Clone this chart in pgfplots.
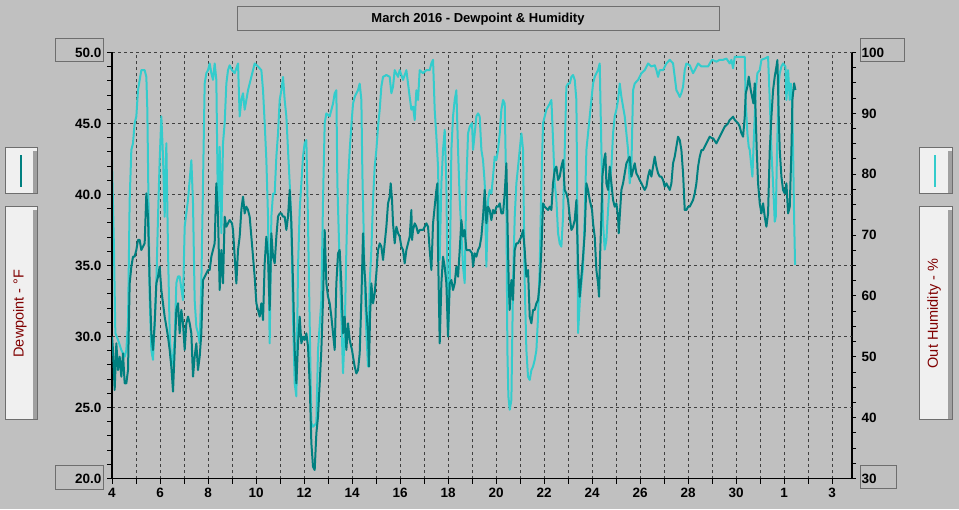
\documentclass[border=0pt]{standalone}
\usepackage{fontspec}
\setmainfont{Liberation Sans}
\usepackage{pgfplots}
\pgfplotsset{compat=1.18}
\definecolor{bg}{HTML}{C0C0C0}
\definecolor{dew}{HTML}{008080}
\definecolor{hum}{HTML}{33CCCC}
\definecolor{boxline}{HTML}{6E6E6E}
\definecolor{lab}{HTML}{800000}
\definecolor{boxfill}{HTML}{F0F0F0}
\definecolor{boxstrip}{HTML}{A0A0A0}
\begin{document}
\begin{tikzpicture}
\fill[bg] (0,0) rectangle (959pt,509pt);
% ---------------- humidity axis (right) ----------------
\begin{axis}[
  at={(112pt,30.5pt)}, anchor=south west,
  scale only axis, width=740pt, height=426pt,
  xmin=4, xmax=34.83, ymin=30, ymax=100,
  axis x line*=bottom, axis y line*=right,
  axis line style={black, line width=1.2pt, -},
  xtick={4,5,...,34}, xticklabels={}, xtick style={draw=none},
  xmajorgrids=true,
  ytick={30,40,...,100}, minor y tick num=3,
  extra y ticks={41.6667,53.3333,65,76.6667,88.3333,100},
  extra y tick labels={},
  extra y tick style={grid=major, major tick length=0pt},
  major grid style={draw=black!75, dash pattern=on 3pt off 3pt, line width=0.8pt},
  tick align=outside, major tick length=4pt, minor tick length=4pt,
  ytick style={black, line width=1pt},
  /pgf/number format/assume math mode=true,
  yticklabel style={font=\fontsize{13.5}{14}\selectfont\bfseries, anchor=west, xshift=2pt},
  clip=true,
]
\addplot[hum, line width=2pt, line join=round] coordinates {
(4.000,82.3)(4.083,67.6)(4.139,53.9)(4.250,52.8)(4.389,51.1)(4.528,50.0)(4.597,51.1)(4.667,55.5)(4.736,75.8)(4.806,84.0)(4.875,85.1)(4.944,88.4)(5.014,89.5)(5.083,93.8)(5.153,95.5)(5.222,97.1)(5.292,97.1)(5.361,97.1)(5.431,96.0)(5.472,90.6)(5.528,73.0)(5.569,59.9)(5.639,51.1)(5.708,49.5)(5.778,55.5)(5.847,62.1)(5.917,73.0)(5.986,82.3)(6.056,89.5)(6.125,82.9)(6.194,73.0)(6.264,85.1)(6.333,67.6)(6.403,53.9)(6.472,48.4)(6.542,50.0)(6.611,52.8)(6.681,62.1)(6.750,63.2)(6.819,63.2)(6.958,59.3)(7.028,71.4)(7.167,75.8)(7.306,82.3)(7.375,75.2)(7.444,59.3)(7.514,54.9)(7.583,53.9)(7.653,52.2)(7.722,62.1)(7.792,78.5)(7.861,94.9)(7.931,96.6)(8.000,97.1)(8.069,98.2)(8.139,96.6)(8.208,95.5)(8.278,98.2)(8.347,95.5)(8.417,73.0)(8.486,84.5)(8.556,70.3)(8.625,85.1)(8.694,88.4)(8.764,94.9)(8.833,97.1)(8.903,97.9)
(9.000,97.1)(9.111,96.6)(9.250,98.2)(9.319,89.5)(9.389,92.2)(9.458,93.3)(9.528,90.6)(9.667,93.8)(9.806,96.0)(9.944,98.2)(10.083,97.7)(10.222,97.1)(10.292,93.8)(10.361,88.4)(10.431,82.3)(10.500,73.0)(10.569,52.2)(10.639,73.0)(10.708,76.8)(10.778,76.8)(10.847,82.9)(10.917,86.7)(10.986,92.2)(11.056,93.8)(11.125,96.0)(11.194,92.2)(11.264,89.5)(11.333,84.0)(11.403,78.5)(11.472,71.9)(11.542,56.6)(11.611,45.6)(11.681,43.5)(11.750,64.8)(11.819,74.1)(11.889,78.5)(11.958,82.9)(12.028,85.1)(12.097,85.6)(12.167,71.9)(12.236,55.5)(12.306,39.1)(12.375,38.5)(12.514,39.1)(12.583,51.1)(12.722,59.3)(12.792,75.8)(12.861,88.4)(12.931,90.0)(13.069,89.5)(13.208,91.6)(13.278,93.3)(13.347,93.8)(13.389,78.5)(13.486,64.8)(13.556,56.6)(13.625,47.3)(13.694,53.9)(13.764,67.6)(13.833,78.5)(13.903,84.0)
(14.000,89.5)(14.042,91.6)(14.111,92.7)(14.181,93.3)(14.250,93.8)(14.319,94.9)(14.389,92.2)(14.431,80.1)(14.472,73.0)(14.528,62.1)(14.597,53.9)(14.667,48.4)(14.736,62.1)(14.806,67.6)(14.875,75.8)(14.944,81.2)(15.014,84.0)(15.083,87.8)(15.153,90.6)(15.222,94.4)(15.292,96.0)(15.431,96.3)(15.569,96.0)(15.639,93.3)(15.708,94.4)(15.778,97.1)(15.917,96.0)(15.986,97.1)(16.125,95.5)(16.264,97.1)(16.403,92.7)(16.472,90.6)(16.542,91.1)(16.611,88.9)(16.681,93.8)(16.750,92.2)(16.819,97.1)(16.958,96.6)(17.097,97.1)(17.236,97.1)(17.306,98.2)(17.375,98.8)(17.444,90.6)(17.514,86.2)(17.583,81.2)(17.653,65.9)(17.722,78.5)(17.792,84.0)(17.861,87.3)(17.931,78.5)(18.000,53.9)(18.069,62.1)(18.139,84.0)(18.208,89.5)(18.278,92.2)(18.347,93.8)(18.417,84.0)(18.486,75.8)(18.556,70.3)(18.625,64.8)(18.694,62.1)(18.764,78.5)(18.833,86.7)(18.903,87.8)
(19.000,88.4)(19.042,84.0)(19.111,86.7)(19.181,89.5)(19.250,90.0)(19.319,89.5)(19.389,84.0)(19.458,82.3)(19.528,78.5)(19.597,64.8)(19.667,75.8)(19.736,77.4)(19.806,76.8)(19.875,79.6)(19.944,82.9)(20.014,82.3)(20.083,84.0)(20.153,86.7)(20.222,90.6)(20.292,92.2)(20.361,91.6)(20.431,75.8)(20.472,51.1)(20.514,43.5)(20.569,41.3)(20.639,42.9)(20.708,62.1)(20.778,73.0)(20.847,78.5)(20.917,81.2)(20.986,84.0)(21.056,86.7)(21.125,84.0)(21.194,62.1)(21.264,51.1)(21.333,46.7)(21.403,46.2)(21.472,47.8)(21.542,48.4)(21.611,49.5)(21.681,51.1)(21.750,56.6)(21.819,64.8)(21.889,78.5)(21.958,88.4)(22.028,89.5)(22.097,90.6)(22.167,91.1)(22.236,91.6)(22.306,92.2)(22.375,85.6)(22.444,78.5)(22.514,75.8)(22.583,70.3)(22.653,68.6)(22.722,68.1)(22.792,73.0)(22.861,84.0)(22.931,94.4)(23.000,94.9)(23.069,94.9)(23.139,96.0)(23.208,96.3)(23.278,95.5)(23.347,92.2)(23.389,73.0)(23.417,53.9)(23.486,58.8)(23.556,62.1)(23.625,64.8)(23.694,73.0)(23.764,84.0)(23.833,86.7)(23.903,89.5)
(24.000,93.3)(24.042,94.9)(24.111,96.0)(24.181,96.6)(24.250,97.1)(24.319,98.2)(24.389,84.0)(24.458,71.9)(24.528,67.6)(24.597,69.2)(24.667,74.1)(24.736,78.5)(24.806,81.2)(24.875,86.7)(24.944,89.5)(25.014,90.6)(25.083,92.2)(25.153,94.9)(25.222,92.7)(25.292,91.1)(25.361,89.5)(25.431,86.7)(25.500,84.0)(25.569,78.5)(25.639,81.2)(25.708,93.8)(25.778,94.9)(25.917,95.5)(26.056,96.6)(26.194,97.1)(26.333,98.2)(26.472,97.7)(26.611,97.9)(26.681,97.1)(26.750,96.0)(26.819,97.1)(26.958,97.1)(27.097,98.2)(27.236,98.8)(27.375,98.2)(27.444,96.0)(27.514,93.8)(27.583,93.3)(27.653,92.7)(27.722,93.3)(27.792,94.4)(27.861,97.1)(27.931,98.2)(28.069,97.9)(28.208,96.6)(28.278,97.1)(28.417,98.2)(28.556,97.7)(28.694,97.7)(28.833,97.7)(28.903,98.2)
(29.000,98.8)(29.181,98.5)(29.319,98.8)(29.458,98.8)(29.597,99.0)(29.736,98.2)(29.806,98.8)(29.875,97.4)(29.944,99.3)(30.083,99.3)(30.222,99.3)(30.361,99.3)(30.403,91.6)(30.472,86.7)(30.528,84.5)(30.569,84.0)(30.639,81.2)(30.681,79.6)(30.722,84.0)(30.778,89.5)(30.819,93.8)(30.889,96.6)(30.986,97.1)(31.056,98.8)(31.194,99.0)(31.333,99.3)(31.403,92.2)(31.472,84.0)(31.542,78.5)(31.611,72.2)(31.653,73.0)(31.708,84.0)(31.778,94.9)(31.819,96.6)(31.889,97.7)(31.958,98.2)(32.056,97.7)(32.097,92.2)(32.167,97.1)(32.236,92.2)(32.278,94.9)(32.333,92.2)(32.375,84.0)(32.417,73.0)(32.458,65.1)
};
\end{axis}
% ---------------- dewpoint axis (left) ----------------
\begin{axis}[
  at={(112pt,30.5pt)}, anchor=south west,
  scale only axis, width=740pt, height=426pt,
  xmin=4, xmax=34.83, ymin=20, ymax=50,
  axis x line*=bottom, axis y line*=left,
  axis line style={black, line width=1.2pt, -},
  xtick={4,6,...,34},
  xticklabels={4,6,8,10,12,14,16,18,20,22,24,26,28,30,1,3},
  minor x tick num=1,
  ytick={20,25,...,50},
  yticklabels={20.0,25.0,30.0,35.0,40.0,45.0,50.0},
  minor y tick num=4,
  tick align=outside, major tick length=5pt, minor tick length=5pt,
  tick style={black, line width=1pt},
  /pgf/number format/assume math mode=true,
  ticklabel style={font=\fontsize{13.5}{14}\selectfont\bfseries},
  yticklabel style={anchor=east, xshift=-2pt},
  xticklabel style={anchor=north, yshift=-1pt},
  clip=true,
]
\addplot[dew, line width=2pt, line join=round] coordinates {
(4.000,29.99)(4.042,29.05)(4.111,26.23)(4.181,29.52)(4.250,27.64)(4.319,28.58)(4.389,27.17)(4.458,28.81)(4.528,26.70)(4.597,26.70)(4.667,27.64)(4.736,33.74)(4.806,34.92)(4.875,35.62)(4.944,35.62)(5.014,36.09)(5.083,36.80)(5.153,36.80)(5.222,36.09)(5.292,36.33)(5.361,36.56)(5.431,40.08)(5.500,38.44)(5.569,33.74)(5.639,30.22)(5.708,29.05)(5.778,30.93)(5.847,33.74)(5.917,34.21)(5.986,34.92)(6.056,33.27)(6.125,32.34)(6.194,31.40)(6.264,30.70)(6.333,29.99)(6.403,29.05)(6.472,27.88)(6.542,26.12)(6.611,29.05)(6.681,31.87)(6.750,32.34)(6.819,30.22)(6.889,31.87)(6.958,30.93)(7.028,29.05)(7.097,30.93)(7.167,31.40)(7.236,30.93)(7.306,30.22)(7.375,27.17)(7.444,28.58)(7.514,29.52)(7.583,27.64)(7.653,28.58)(7.722,30.22)(7.792,33.98)(7.861,34.21)(7.931,34.45)(8.000,34.68)(8.069,34.68)(8.139,35.62)(8.208,36.09)(8.278,36.56)(8.347,40.79)(8.417,38.44)(8.486,33.27)(8.556,36.09)(8.625,33.74)(8.694,38.44)(8.764,37.73)(8.833,37.97)(8.903,38.20)
(9.000,37.97)(9.042,37.50)(9.111,35.62)(9.181,33.74)(9.250,36.09)(9.319,37.03)(9.389,38.91)(9.458,39.85)(9.528,38.67)(9.597,39.14)(9.667,38.91)(9.736,38.44)(9.806,37.03)(9.875,35.62)(9.944,34.21)(10.014,32.34)(10.083,31.87)(10.153,31.40)(10.222,32.34)(10.292,31.16)(10.361,35.15)(10.431,37.03)(10.500,35.62)(10.569,31.87)(10.639,37.27)(10.708,35.62)(10.778,35.15)(10.847,37.03)(10.917,38.44)(10.986,38.67)(11.056,38.67)(11.125,38.44)(11.194,38.44)(11.264,37.50)(11.333,38.44)(11.403,40.32)(11.472,37.97)(11.542,33.74)(11.611,29.05)(11.681,26.70)(11.750,29.52)(11.819,31.40)(11.889,29.52)(11.958,29.99)(12.028,29.75)(12.097,30.22)(12.167,29.28)(12.236,26.70)(12.306,22.48)(12.375,20.83)(12.444,20.60)(12.514,23.18)(12.583,24.36)(12.653,26.70)(12.722,29.05)(12.792,32.57)(12.861,37.50)(12.931,33.74)(13.000,32.80)(13.069,32.34)(13.139,31.40)(13.208,30.22)(13.278,29.05)(13.347,33.74)(13.417,35.86)(13.486,36.09)(13.556,33.74)(13.625,30.22)(13.694,31.40)(13.764,29.05)(13.833,30.93)(13.903,29.75)
(14.000,29.05)(14.042,28.58)(14.111,27.88)(14.181,27.40)(14.250,27.64)(14.319,28.81)(14.389,32.57)(14.458,37.27)(14.500,35.15)(14.556,33.74)(14.597,31.87)(14.667,30.22)(14.708,27.88)(14.750,31.40)(14.806,33.74)(14.875,32.34)(14.944,33.04)(15.014,34.45)(15.083,36.09)(15.153,36.56)(15.222,36.33)(15.292,35.39)(15.361,36.56)(15.431,37.73)(15.500,39.38)(15.569,39.85)(15.611,40.79)(15.667,39.61)(15.708,37.97)(15.778,36.56)(15.847,37.73)(15.917,37.27)(15.986,37.03)(16.056,36.33)(16.125,36.09)(16.194,35.15)(16.264,36.09)(16.333,36.56)(16.403,37.03)(16.472,38.91)(16.500,36.80)(16.542,37.50)(16.611,37.97)(16.681,37.73)(16.750,37.27)(16.819,37.50)(16.958,37.50)(17.097,37.97)(17.167,37.73)(17.236,36.09)(17.306,34.68)(17.375,37.97)(17.444,39.14)(17.514,40.32)(17.556,40.79)(17.583,36.09)(17.653,29.52)(17.722,33.74)(17.792,35.62)(17.861,34.92)(17.931,33.74)(18.000,29.99)(18.069,33.74)(18.139,33.98)(18.208,33.27)(18.278,33.74)(18.347,34.92)(18.417,34.21)(18.486,36.09)(18.556,38.20)(18.625,37.03)(18.694,37.50)(18.764,36.09)(18.833,36.09)(18.903,36.09)
(19.000,35.86)(19.042,34.92)(19.111,35.86)(19.181,35.62)(19.250,36.09)(19.319,36.33)(19.389,37.03)(19.458,38.44)(19.528,40.32)(19.597,37.97)(19.667,39.14)(19.736,38.91)(19.806,38.20)(19.875,38.91)(19.944,38.67)(20.014,39.14)(20.083,39.14)(20.153,39.38)(20.222,38.67)(20.292,38.67)(20.361,40.08)(20.431,42.20)(20.472,38.44)(20.528,33.74)(20.569,31.87)(20.639,33.98)(20.708,32.57)(20.778,36.09)(20.847,36.56)(20.917,36.56)(20.986,36.80)(21.056,37.03)(21.125,37.50)(21.194,36.09)(21.264,34.21)(21.333,34.68)(21.403,31.40)(21.472,30.93)(21.542,31.87)(21.611,31.87)(21.681,32.34)(21.750,32.57)(21.819,33.74)(21.889,36.09)(21.958,39.38)(22.028,39.14)(22.167,38.91)(22.236,39.14)(22.306,38.91)(22.375,40.79)(22.444,41.73)(22.514,41.96)(22.583,41.02)(22.653,41.26)(22.722,41.96)(22.792,42.43)(22.861,40.32)(22.931,40.08)(23.000,39.61)(23.069,38.44)(23.139,37.50)(23.208,37.73)(23.278,38.20)(23.347,39.61)(23.417,34.92)(23.486,32.80)(23.556,34.21)(23.625,35.62)(23.694,37.27)(23.764,40.79)(23.833,40.32)(23.903,39.61)
(24.000,38.91)(24.042,37.97)(24.111,37.03)(24.181,34.68)(24.250,33.74)(24.292,32.80)(24.333,35.62)(24.389,38.44)(24.431,41.26)(24.500,42.43)(24.556,42.90)(24.597,40.79)(24.667,40.32)(24.736,41.96)(24.806,40.79)(24.875,39.61)(24.944,39.14)(25.014,39.38)(25.083,38.44)(25.111,37.27)(25.153,38.44)(25.222,40.32)(25.292,40.79)(25.361,41.49)(25.431,42.20)(25.500,42.43)(25.569,42.66)(25.639,41.26)(25.708,41.73)(25.778,42.20)(25.847,41.49)(25.917,41.26)(25.986,41.02)(26.056,40.79)(26.125,40.55)(26.194,40.32)(26.264,40.55)(26.333,41.26)(26.403,41.73)(26.472,41.26)(26.542,41.96)(26.611,42.66)(26.681,41.96)(26.750,41.49)(26.819,41.26)(26.889,41.26)(26.958,41.02)(27.028,40.55)(27.097,40.79)(27.167,40.55)(27.236,40.32)(27.306,40.79)(27.375,42.20)(27.444,42.66)(27.514,43.37)(27.583,44.07)(27.653,43.84)(27.722,43.13)(27.792,41.49)(27.861,38.91)(27.931,38.91)(28.000,39.14)(28.069,39.14)(28.139,39.38)(28.208,39.61)(28.278,40.08)(28.347,40.79)(28.417,41.96)(28.486,42.66)(28.556,43.13)(28.625,43.13)(28.694,43.37)(28.764,43.60)(28.833,43.84)(28.903,44.07)
(29.000,43.96)(29.042,43.96)(29.181,43.60)(29.319,44.07)(29.389,44.31)(29.458,44.54)(29.528,44.78)(29.597,44.89)(29.667,45.01)(29.736,45.25)(29.806,45.36)(29.875,45.48)(29.944,45.25)(30.014,45.13)(30.083,45.01)(30.153,44.78)(30.222,44.31)(30.292,44.07)(30.361,45.48)(30.403,47.12)(30.472,47.60)(30.528,48.30)(30.611,47.36)(30.667,46.89)(30.722,46.42)(30.778,47.83)(30.819,45.48)(30.861,43.13)(30.917,40.79)(30.986,39.38)(31.056,38.67)(31.125,39.38)(31.194,38.44)(31.264,37.73)(31.333,38.67)(31.403,43.13)(31.472,45.48)(31.542,47.36)(31.611,48.30)(31.681,49.00)(31.722,49.47)(31.778,45.48)(31.819,43.13)(31.889,41.26)(31.958,40.32)(32.028,40.08)(32.097,40.79)(32.167,38.67)(32.236,39.14)(32.306,43.13)(32.347,46.66)(32.417,47.83)(32.472,47.36)
};
\end{axis}
% ---------------- frames and labels ----------------
\draw[boxline, line width=1pt] (237pt,478pt) rectangle (719pt,502pt);
\node[font=\fontsize{13}{15}\selectfont\bfseries] at (478pt,490pt) {March 2016 - Dewpoint \& Humidity};
% tick label boxes
\draw[boxline, line width=1pt] (55pt,447pt) rectangle (103pt,470pt);
\draw[boxline, line width=1pt] (55pt,19pt) rectangle (103pt,43pt);
\draw[boxline, line width=1pt] (860pt,447pt) rectangle (904pt,470pt);
\draw[boxline, line width=1pt] (860pt,20pt) rectangle (896pt,43pt);
% left legend boxes
\fill[boxfill] (5pt,315pt) rectangle (37pt,361pt);
\fill[boxstrip] (33pt,315pt) rectangle (37pt,358pt);
\draw[boxline, line width=1pt] (5pt,315pt) rectangle (37pt,361pt);
\draw[dew, line width=2.5pt] (21pt,322pt) -- (21pt,354pt);
\fill[boxfill] (5pt,89pt) rectangle (37pt,302pt);
\fill[boxstrip] (33pt,89pt) rectangle (37pt,299pt);
\draw[boxline, line width=1pt] (5pt,89pt) rectangle (37pt,302pt);
\node[rotate=90, text=lab, font=\fontsize{14.5}{16}\selectfont] at (20pt,195.5pt) {Dewpoint - °F};
% right legend boxes
\fill[boxfill] (919pt,315pt) rectangle (952pt,361pt);
\fill[boxstrip] (948pt,315pt) rectangle (952pt,358pt);
\draw[boxline, line width=1pt] (919pt,315pt) rectangle (952pt,361pt);
\draw[hum, line width=2.5pt] (935pt,322pt) -- (935pt,354pt);
\fill[boxfill] (919pt,89pt) rectangle (952pt,302pt);
\fill[boxstrip] (948pt,89pt) rectangle (952pt,299pt);
\draw[boxline, line width=1pt] (919pt,89pt) rectangle (952pt,302pt);
\node[rotate=90, text=lab, font=\fontsize{14.5}{16}\selectfont] at (934pt,195.5pt) {Out Humidity - \%};
\pgfresetboundingbox
\useasboundingbox (0,0) rectangle (959pt,509pt);
\end{tikzpicture}
\end{document}
